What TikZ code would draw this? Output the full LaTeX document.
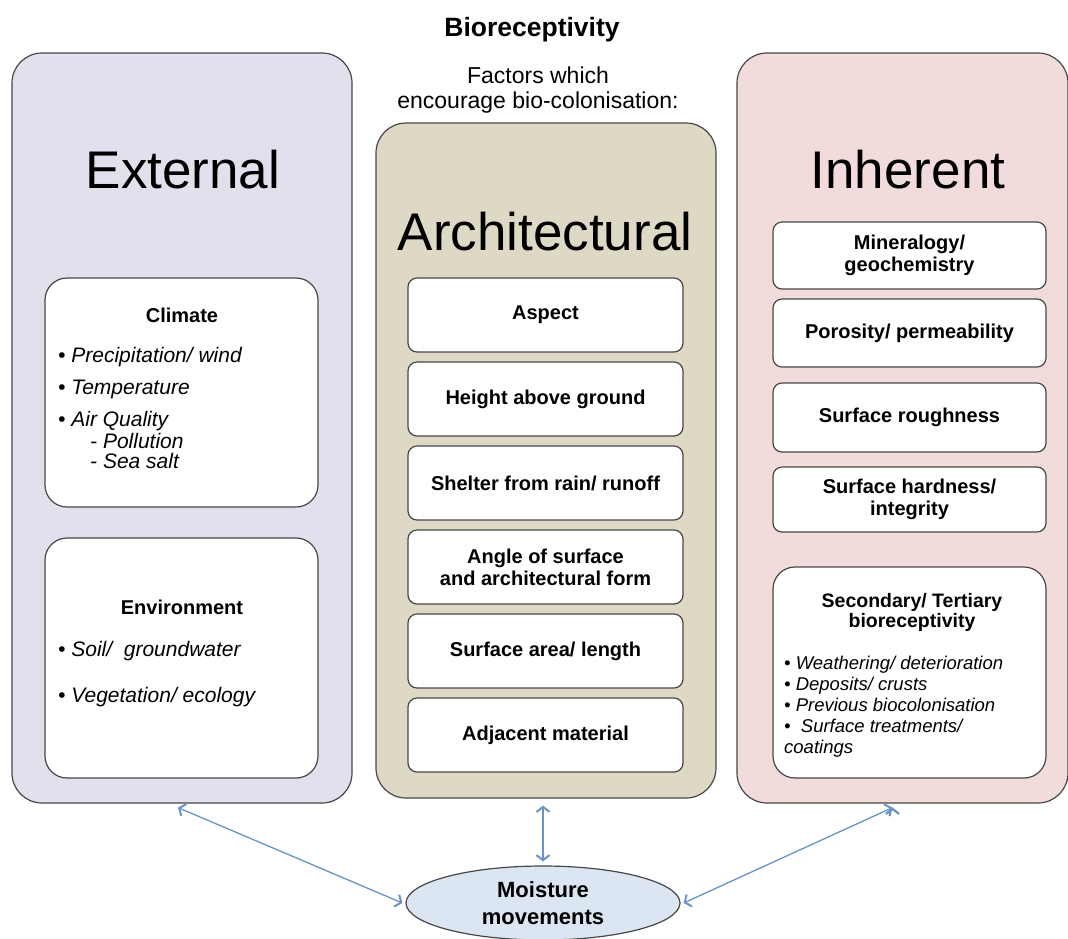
\documentclass[tikz,border=0pt]{standalone}
\usepackage{fontspec}
\setmainfont{Liberation Sans}
\usepackage{tikz}
\usetikzlibrary{positioning,arrows.meta,shapes}
\definecolor{extfill}{HTML}{E4DFEC}
\definecolor{archfill}{HTML}{DDD9C4}
\definecolor{inhfill}{HTML}{F2DCDB}
\definecolor{moistfill}{HTML}{DCE6F2}
\definecolor{linkblue}{HTML}{6C93C8}
\definecolor{edgegray}{HTML}{474747}
\newcommand{\bigfont}{\fontsize{53}{60}\selectfont}
\newcommand{\itemfont}{\fontsize{21}{23}\selectfont\itshape}

\begin{document}
\begin{tikzpicture}[x=1pt,y=-1pt,
    bigbox/.style={draw=edgegray,line width=1.2pt,rounded corners=30pt,inner sep=0pt},
    factor/.style={draw=edgegray,fill=white,line width=1.2pt,rounded corners=9pt,
      inner sep=2pt,align=center,font=\fontsize{20}{22}\selectfont\bfseries},
    listbox/.style={draw=edgegray,fill=white,line width=1.2pt,rounded corners=22pt,
      inner sep=0pt,minimum width=273pt},
    point/.style={anchor=west,inner sep=0pt,font=\itemfont},
    link/.style={<->,draw=linkblue,line width=1.3pt,
      >={Straight Barb[length=5pt,width=13pt,line width=2pt]}}]
    \path[use as bounding box,fill=white] (0,0) rectangle (1068,938);
    % the three groups of factors
    \node[bigbox,fill=extfill,minimum width=340pt,minimum height=750pt] (external) at (182,428) {};
    \node[bigbox,fill=archfill,minimum width=340pt,minimum height=675pt] (arch) at (546,460.5) {};
    \node[bigbox,fill=inhfill,minimum width=331pt,minimum height=750pt] (inherent) at (902.5,428) {};
    \node[font=\fontsize{26.5}{30}\selectfont\bfseries] (title) at (532,30) {Bioreceptivity};
    \node[align=center,font=\fontsize{23}{25}\selectfont] (factors) at (538,90.5) {Factors which\\encourage bio-colonisation:};
    \node[font=\bigfont] (exthead) at (183,170) {External};
    \node[font=\bigfont] (archhead) at (545,232) {Architectural};
    \node[font=\bigfont] (inhhead) at (908,170) {Inherent};
    % external
    \node[listbox,minimum height=229pt] (climate) at (181.5,392.5) {};
    \node[listbox,minimum height=240pt] (environment) at (181.5,658) {};
    \node[font=\fontsize{20}{22}\selectfont\bfseries] (climhead) at (182,315) {Climate};
    \node[point] (precip) at (58,357) {\textbullet\ Precipitation/ wind};
    \node[point] (temp) at (58,389) {\textbullet\ Temperature};
    \node[point] (air) at (58,421) {\textbullet\ Air Quality};
    \node[point] (pollution) at (90,441) {- Pollution};
    \node[point] (seasalt) at (90,461) {- Sea salt};
    \node[font=\fontsize{20}{22}\selectfont\bfseries] (envhead) at (182,607) {Environment};
    \node[point] (soil) at (58,651) {\textbullet\ Soil/\ \ groundwater};
    \node[point] (veg) at (58,697) {\textbullet\ Vegetation/ ecology};
    % architectural
    \begin{scope}[node distance=8.8pt,every node/.append style={minimum width=275pt,minimum height=74pt}]
    \node[factor] (aspect) at (545.5,315) {Aspect};
    \node[factor] (height)[below=of aspect] {Height above ground};
    \node[factor] (shelter)[below=of height] {Shelter from rain/ runoff};
    \node[factor] (angle)[below=of shelter] {Angle of surface\\and architectural form};
    \node[factor] (area)[below=of angle] {Surface area/ length};
    \node[factor] (adjacent)[below=of area] {Adjacent material};
    \end{scope}
    % inherent
    \node[factor,minimum width=273pt,minimum height=67pt] (mineral) at (909.5,255.5) {Mineralogy/\\geochemistry};
    \node[factor,minimum width=273pt,minimum height=68pt] (porosity) at (909.5,333) {Porosity/ permeability};
    \node[factor,minimum width=273pt,minimum height=69pt] (rough) at (909.5,417.5) {Surface roughness};
    \node[factor,minimum width=273pt,minimum height=65pt] (hard) at (909.5,499.5) {Surface hardness/\\integrity};
    \node[listbox,minimum height=211pt] (secondary) at (909.5,672.5) {};
    \node[align=center,font=\fontsize{19.5}{20}\selectfont\bfseries] (sechead) at (912,612) {Secondary/ Tertiary\\bioreceptivity};
    \node[point,align=left,font=\fontsize{18.5}{21}\selectfont\itshape] (secitems) at (784,707)
      {\textbullet\ Weathering/ deterioration\\\textbullet\ Deposits/ crusts\\\textbullet\ Previous biocolonisation\\\textbullet\ \ Surface treatments/\\coatings};
    % moisture
    \node[ellipse,draw=edgegray,fill=moistfill,line width=1.2pt,minimum width=274pt,minimum height=74pt,
      inner sep=0pt,align=center,font=\fontsize{22}{27}\selectfont\bfseries] (moisture) at (543,903) {Moisture\\movements};
    \path[link]
    ([xshift=-4pt,yshift=-4pt]external.south) edge ([xshift=-3pt]moisture.west)
    ([yshift=-7pt]moisture.north |- arch.south) edge ([yshift=4pt]moisture.north)
    ([xshift=-10pt,yshift=-4pt]inherent.south) edge ([xshift=3pt]moisture.east);
\end{tikzpicture}
\end{document}
